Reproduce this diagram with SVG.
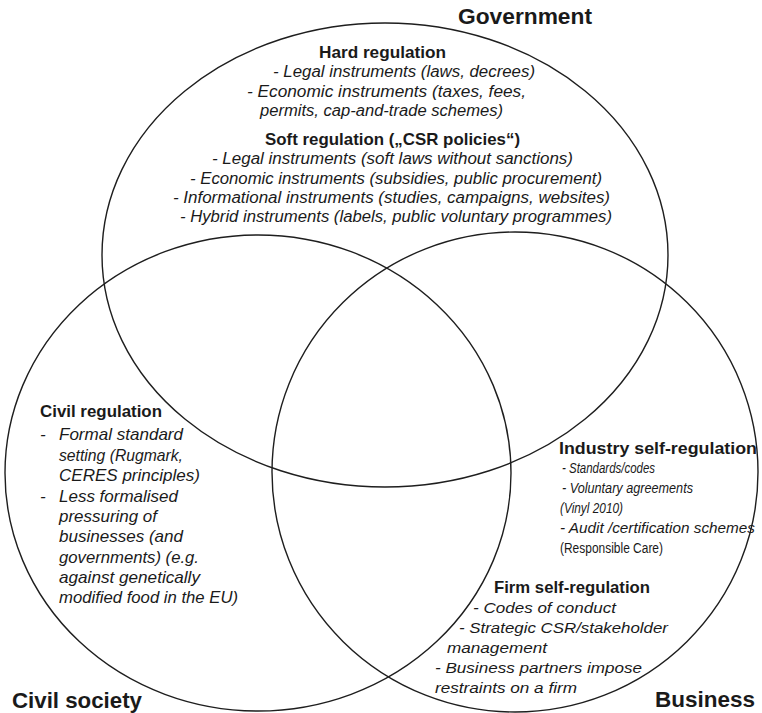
<svg xmlns="http://www.w3.org/2000/svg" width="762" height="713" viewBox="0 0 762 713">
<style>
  .set { fill: none; stroke: #1e1e1e; stroke-width: 1.4; }
  text { font-family: "Liberation Sans", Arial, sans-serif; fill: #1a1a1a; }
  .title { font-size: 22px; font-weight: bold; }
  .head { font-size: 17px; font-weight: bold; }
  .it { font-size: 16px; font-style: italic; }
  .it14 { font-size: 14px; font-style: italic; }
  .rg14 { font-size: 14px; }
  .it15 { font-size: 15px; font-style: italic; }
  .it17 { font-size: 17px; font-style: italic; }
</style>
<rect width="762" height="713" fill="#ffffff"/>

<g id="government">
  <ellipse class="set" cx="385" cy="255" rx="283" ry="232"/>
  <text class="title" x="458" y="24" textLength="134" lengthAdjust="spacingAndGlyphs">Government</text>
  <text class="head" x="319" y="58" textLength="127" lengthAdjust="spacingAndGlyphs">Hard regulation</text>
  <text class="it" x="273" y="77" textLength="262" lengthAdjust="spacingAndGlyphs">- Legal instruments (laws, decrees)</text>
  <text class="it" x="247" y="97" textLength="279" lengthAdjust="spacingAndGlyphs">- Economic instruments (taxes, fees,</text>
  <text class="it" x="260" y="116" textLength="243" lengthAdjust="spacingAndGlyphs">permits, cap-and-trade schemes)</text>
  <text class="head" x="265" y="145" textLength="255" lengthAdjust="spacingAndGlyphs">Soft regulation („CSR policies“)</text>
  <text class="it" x="212" y="164" textLength="361" lengthAdjust="spacingAndGlyphs">- Legal instruments (soft laws without sanctions)</text>
  <text class="it" x="190" y="184" textLength="412" lengthAdjust="spacingAndGlyphs">- Economic instruments (subsidies, public procurement)</text>
  <text class="it" x="173" y="203" textLength="437" lengthAdjust="spacingAndGlyphs">- Informational instruments (studies, campaigns, websites)</text>
  <text class="it" x="180" y="222" textLength="432" lengthAdjust="spacingAndGlyphs">- Hybrid instruments (labels, public voluntary programmes)</text>
</g>

<g id="civil-society">
  <ellipse class="set" cx="258" cy="473" rx="253" ry="238"/>
  <text class="title" x="12" y="708" textLength="130" lengthAdjust="spacingAndGlyphs">Civil society</text>
  <text class="head" x="40" y="417" textLength="122" lengthAdjust="spacingAndGlyphs">Civil regulation</text>
  <text class="it17" x="40" y="440">-</text>
  <text class="it17" x="59" y="440" textLength="124" lengthAdjust="spacingAndGlyphs">Formal standard</text>
  <text class="it17" x="59" y="461" textLength="124" lengthAdjust="spacingAndGlyphs">setting (Rugmark,</text>
  <text class="it17" x="59" y="481" textLength="141" lengthAdjust="spacingAndGlyphs">CERES principles)</text>
  <text class="it17" x="40" y="502">-</text>
  <text class="it17" x="59" y="502" textLength="119" lengthAdjust="spacingAndGlyphs">Less formalised</text>
  <text class="it17" x="59" y="522" textLength="98" lengthAdjust="spacingAndGlyphs">pressuring of</text>
  <text class="it17" x="59" y="542" textLength="124" lengthAdjust="spacingAndGlyphs">businesses (and</text>
  <text class="it17" x="59" y="563" textLength="140" lengthAdjust="spacingAndGlyphs">governments) (e.g.</text>
  <text class="it17" x="59" y="583" textLength="141" lengthAdjust="spacingAndGlyphs">against genetically</text>
  <text class="it17" x="59" y="603" textLength="179" lengthAdjust="spacingAndGlyphs">modified food in the EU)</text>
</g>

<g id="business">
  <ellipse class="set" cx="515" cy="472" rx="243" ry="240"/>
  <text class="title" x="655" y="707" textLength="100" lengthAdjust="spacingAndGlyphs">Business</text>
  <text class="head" x="559" y="454" textLength="198" lengthAdjust="spacingAndGlyphs">Industry self-regulation</text>
  <text class="it14" x="562" y="473" textLength="93" lengthAdjust="spacingAndGlyphs">- Standards/codes</text>
  <text class="it14" x="562" y="493" textLength="131" lengthAdjust="spacingAndGlyphs">- Voluntary agreements</text>
  <text class="it14" x="560" y="513" textLength="63" lengthAdjust="spacingAndGlyphs">(Vinyl 2010)</text>
  <text class="it14" x="560" y="533" textLength="195" lengthAdjust="spacingAndGlyphs">- Audit /certification schemes</text>
  <text class="rg14" x="560" y="553" textLength="103" lengthAdjust="spacingAndGlyphs">(Responsible Care)</text>
  <text class="head" x="494" y="593" textLength="156" lengthAdjust="spacingAndGlyphs">Firm self-regulation</text>
  <text class="it15" x="473" y="613" textLength="143" lengthAdjust="spacingAndGlyphs">- Codes of conduct</text>
  <text class="it15" x="459" y="633" textLength="209" lengthAdjust="spacingAndGlyphs">- Strategic CSR/stakeholder</text>
  <text class="it15" x="447" y="653" textLength="100" lengthAdjust="spacingAndGlyphs">management</text>
  <text class="it15" x="435" y="673" textLength="207" lengthAdjust="spacingAndGlyphs">- Business partners impose</text>
  <text class="it15" x="435" y="693" textLength="142" lengthAdjust="spacingAndGlyphs">restraints on a firm</text>
</g>
</svg>
